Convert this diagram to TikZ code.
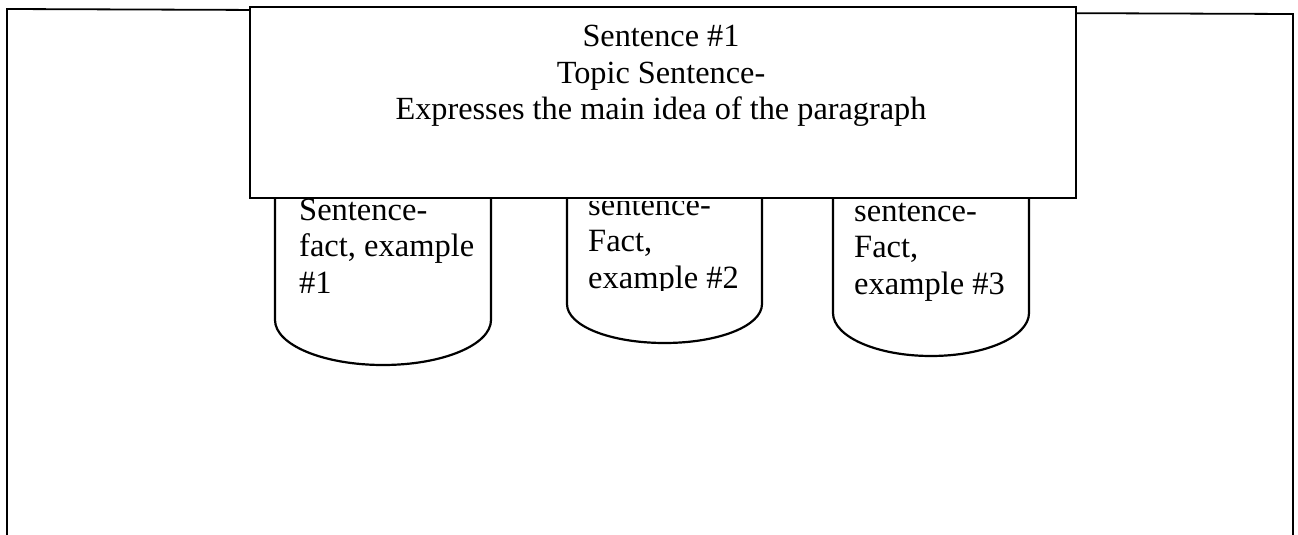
\documentclass[tikz,border=0pt]{standalone}
\usepackage{fontspec}
\setmainfont{Liberation Serif}
\begin{document}
\begin{tikzpicture}[x=1pt,y=-1pt,
  frameline/.style={line width=1.8pt},
  topbox/.style={draw, line width=2.6pt, fill=white, inner sep=0pt},
  canline/.style={line width=2.2pt},
  cantext/.style={inner sep=0pt, anchor=base west, font=\fontsize{32.5}{36.5}\selectfont},
  toptext/.style={inner sep=0pt, anchor=base, font=\fontsize{32.3}{36.5}\selectfont}]
\clip (0,0) rectangle (1298,535);
% outer frame
\coordinate (fbl) at (7,540);
\coordinate (ftl) at (7,9);
\coordinate (ftr) at (1293,14);
\coordinate (fbr) at (1293,540);
\draw[frameline] (fbl) -- (ftl) -- (ftr) -- (fbr);
% cans
\draw[canline] (275,150) -- (275,320) .. controls (275,344.9) and (323.4,365) .. (383,365)
  .. controls (442.6,365) and (491,344.9) .. (491,320) -- (491,150);
\draw[canline] (567,150) -- (567,304) .. controls (567,326.1) and (610.7,343) .. (664.5,343)
  .. controls (718.3,343) and (762,326.1) .. (762,304) -- (762,150);
\draw[canline] (833,150) -- (833,313) .. controls (833,336.7) and (876.9,356) .. (931,356)
  .. controls (985.1,356) and (1029,336.7) .. (1029,313) -- (1029,150);
% can texts
\node[cantext] (c1) at (299,220) {\parbox[t]{185pt}{\raggedright Sentence-\\fact, example\\\#1}};
\begin{scope}
\clip (567,201) rectangle (762,290.5);
\node[cantext] (c2) at (588,215) {\parbox[t]{170pt}{\raggedright sentence-\\Fact,\\example \#2}};
\end{scope}
\node[cantext] (c3) at (854,221) {\parbox[t]{170pt}{\raggedright sentence-\\Fact,\\example \#3}};
% topic box
\node[topbox, minimum width=826pt, minimum height=191pt] (topic) at (663,102.5) {};
\node[toptext] (topictext) at (661,47) {\parbox[t]{800pt}{\centering Sentence \#1\\Topic Sentence-\\Expresses the main idea of the paragraph}};
\end{tikzpicture}
\end{document}
